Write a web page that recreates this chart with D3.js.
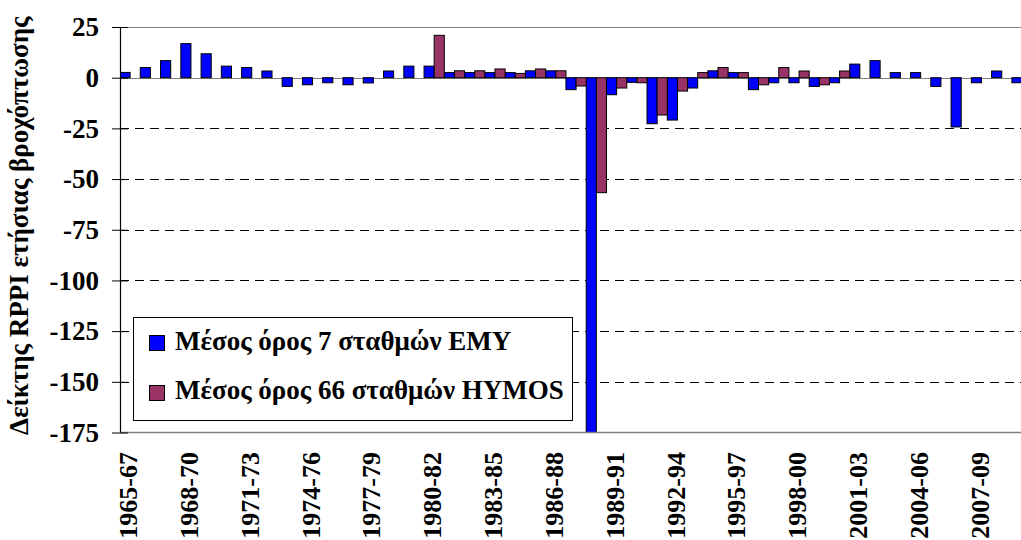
<!DOCTYPE html>
<html>
<head>
<meta charset="utf-8">
<script src="https://cdn.jsdelivr.net/npm/d3@7"></script>
<style>
  body { margin: 0; background: #fff; }
  svg { display: block; }
  svg text { font-family: "Liberation Serif", "Times New Roman", Times, "DejaVu Serif", serif; font-weight: bold; fill: #000; }
</style>
</head>
<body>
<svg id="chart" width="1021" height="540"></svg>
<script>
// hydrological years, one bar pair per year
const years = [1965, 1966, 1967, 1968, 1969, 1970, 1971, 1972, 1973, 1974,
               1975, 1976, 1977, 1978, 1979, 1980, 1981, 1982, 1983, 1984,
               1985, 1986, 1987, 1988, 1989, 1990, 1991, 1992, 1993, 1994,
               1995, 1996, 1997, 1998, 1999, 2000, 2001, 2002, 2003, 2004,
               2005, 2006, 2007, 2008, 2009];

const labelYears = [1965, 1968, 1971, 1974, 1977, 1980, 1983, 1986, 1989, 1992, 1995, 1998, 2001, 2004, 2007];
const tickLabels = ["1965-67", "1968-70", "1971-73", "1974-76", "1977-79", "1980-82", "1983-85", "1986-88",
                    "1989-91", "1992-94", "1995-97", "1998-00", "2001-03", "2004-06", "2007-09"];

const emy = [2.6, 5, 8.4, 16.8, 11.8, 5.7, 5, 3.3, -4.3, -3.5,
             -2.5, -3.5, -2.6, 3.3, 5.7, 5.7, 2.5, 2.5, 2.5, 2.5,
             3.4, 3.4, -5.9, -180, -8.4, -2.3, -22.7, -20.9, -5.1, 3.4,
             2.5, -5.9, -2.5, -2.5, -4.3, -2.5, 6.7, 8.4, 2.5, 2.5,
             -4.3, -24.3, -2.5, 3.3, -2.5];

const hymos = [null, null, null, null, null, null, null, null, null, null,
               null, null, null, null, null, 20.9, 3.4, 3.4, 4.3, 2.1,
               4.3, 3.4, -4.1, -56.7, -5.1, -2.5, -18.4, -6.6, 2.5, 5,
               2.5, -3.5, 5, 3.3, -3.5, 3.3, null, null, null, null,
               null, null, null, null, null];

const yTicks = [25, 0, -25, -50, -75, -100, -125, -150, -175];
const seriesNames = ["Μέσος όρος 7 σταθμών ΕΜΥ", "Μέσος όρος 66 σταθμών HYMOS"];
const seriesColors = ["#0000ff", "#993366"];

const svg = d3.select("#chart");
const plotLeft = 120, plotTop = 27, plotBottom = 432.5, step = 20.27;
const fontSize = 27;

const x = d3.scaleBand().domain(years).range([plotLeft, plotLeft + years.length * step]).padding(0);
const y = d3.scaleLinear().domain([-175, 25]).range([plotBottom, plotTop]);

svg.append("clipPath").attr("id", "plot-clip")
  .append("rect").attr("x", plotLeft).attr("y", plotTop).attr("width", 1021 - plotLeft).attr("height", plotBottom - plotTop);

// gridlines
svg.append("g").selectAll("line")
  .data(yTicks.filter(d => d > -175))
  .join("line")
  .attr("x1", plotLeft).attr("x2", 1021)
  .attr("y1", d => Math.round(y(d)) + 0.5).attr("y2", d => Math.round(y(d)) + 0.5)
  .attr("stroke", d => (d === 25 || d === 0) ? "#808080" : "#000")
  .attr("stroke-width", 1)
  .attr("stroke-dasharray", d => (d === 25 || d === 0) ? null : "9,6");

// bars
const bw = x.bandwidth() / 2;
const bars = svg.append("g").attr("clip-path", "url(#plot-clip)");
[emy, hymos].forEach((series, si) => {
  bars.selectAll(".s" + si)
    .data(years.map((yr, i) => ({ yr, v: series[i] })).filter(d => d.v !== null))
    .join("rect")
    .attr("class", "s" + si)
    .attr("x", d => x(d.yr) + si * bw)
    .attr("width", bw)
    .attr("y", d => y(Math.max(0, d.v)))
    .attr("height", d => Math.abs(y(d.v) - y(0)))
    .attr("fill", seriesColors[si])
    .attr("stroke", "#000")
    .attr("stroke-width", 1);
});

// x axis line
svg.append("line")
  .attr("x1", plotLeft).attr("x2", 1021)
  .attr("y1", plotBottom).attr("y2", plotBottom)
  .attr("stroke", "#808080").attr("stroke-width", 1.5);

// y axis
const yAxis = svg.append("g").attr("transform", `translate(${plotLeft},0)`)
  .call(d3.axisLeft(y).tickValues(yTicks).tickSize(8).tickPadding(13).tickFormat(d => String(d)));
yAxis.attr("font-family", null).attr("font-size", null);
yAxis.select(".domain").remove();
yAxis.selectAll(".tick line").attr("x2", -8).attr("x1", 8).attr("stroke", "#000");
yAxis.selectAll(".tick text")
  .attr("font-size", fontSize).attr("fill", "#000");
svg.append("line")
  .attr("x1", plotLeft + 0.5).attr("x2", plotLeft + 0.5)
  .attr("y1", plotTop).attr("y2", plotBottom)
  .attr("stroke", "#000").attr("stroke-width", 1.2);

// x tick labels
svg.append("g").selectAll("text")
  .data(labelYears)
  .join("text")
  .attr("transform", d => `translate(${x(d) + x.bandwidth() / 2 - 2},452) rotate(-90)`)
  .attr("text-anchor", "end")
  .attr("dy", "0.35em")
  .attr("font-size", 26)
  .text((d, i) => tickLabels[i]);

// y title
svg.append("text")
  .attr("transform", `translate(28,${(plotTop + plotBottom) / 2 - 4}) rotate(-90)`)
  .attr("text-anchor", "middle")
  .attr("font-size", fontSize)
  .text("Δείκτης RPPI ετήσιας βροχόπτωσης");

// legend
const legend = svg.append("g");
legend.append("rect")
  .attr("x", 133.5).attr("y", 317.5).attr("width", 439).attr("height", 103)
  .attr("fill", "#fff").attr("stroke", "#000").attr("stroke-width", 1);
seriesNames.forEach((name, i) => {
  legend.append("rect")
    .attr("x", 149.5).attr("y", 335.5 + i * 50).attr("width", 15).attr("height", 15)
    .attr("fill", seriesColors[i]).attr("stroke", "#000");
  legend.append("text")
    .attr("x", 175).attr("y", 350 + i * 49)
    .attr("font-size", fontSize)
    .text(name);
});
</script>
</body>
</html>
